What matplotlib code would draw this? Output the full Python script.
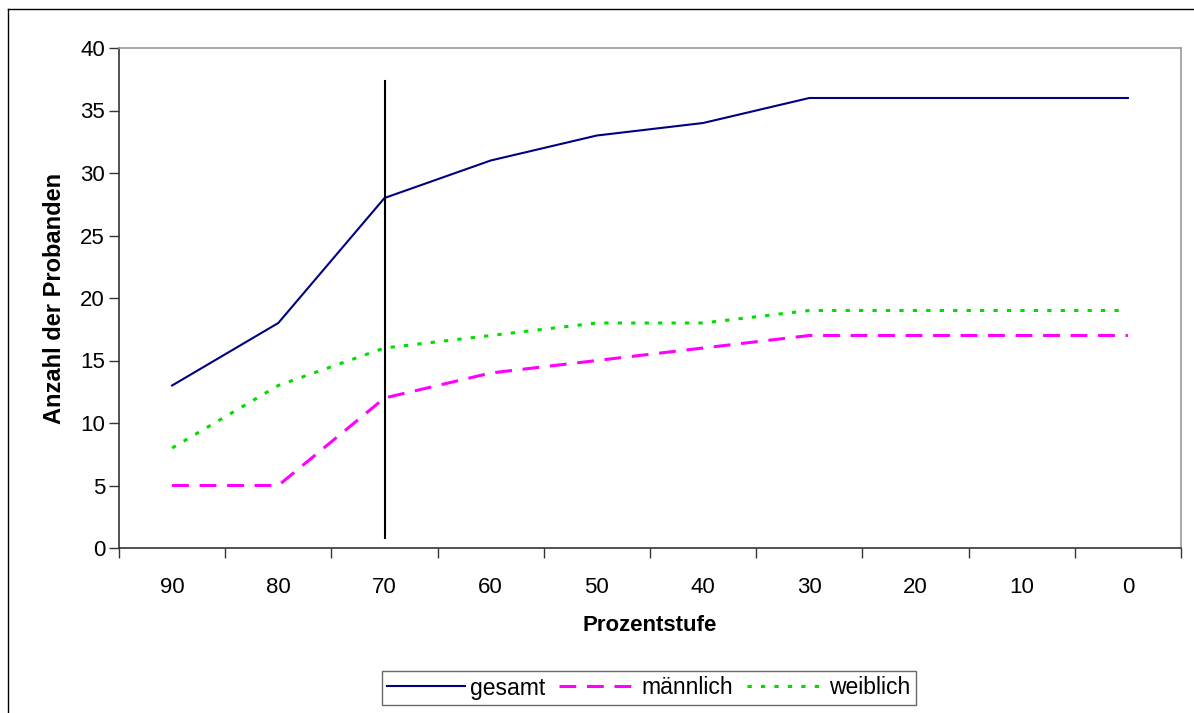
import matplotlib.pyplot as plt
from matplotlib.lines import Line2D

plt.rcParams['font.family'] = ['Liberation Sans', 'DejaVu Sans']

prozentstufen = ['90', '80', '70', '60', '50', '40', '30', '20', '10', '0']
gesamt = [13, 18, 28, 31, 33, 34, 36, 36, 36, 36]
maennlich = [5, 5, 12, 14, 15, 16, 17, 17, 17, 17]
weiblich = [8, 13, 16, 17, 18, 18, 19, 19, 19, 19]
markierung = '70'
markierung_y = (0.8, 37.4)

fig = plt.figure(figsize=(11.94, 7.13), dpi=100)
ax = fig.add_axes([119 / 1194, 1 - 548 / 713, 1062 / 1194, 500 / 713])

x = list(range(len(prozentstufen)))
ax.plot(x, gesamt, color='#000080', lw=1.5, label='gesamt')
ax.plot(x, maennlich, color='#ff00ff', lw=2.2, dashes=(5.5, 3.5), label='männlich')
ax.plot(x, weiblich, color='#00dd00', lw=2.2, dashes=(1.4, 3), label='weiblich')

xm = prozentstufen.index(markierung)
ax.plot([xm, xm], markierung_y, color='black', lw=1.5)

ax.set_xlim(-0.5, len(prozentstufen) - 0.5)
ax.set_ylim(0, 40)
ax.set_yticks(range(0, 41, 5))
ax.set_xticks([i - 0.5 for i in range(len(prozentstufen) + 1)])
ax.set_xticklabels([])
ax.set_xticks(x, minor=True)
ax.set_xticklabels(prozentstufen, minor=True)
ax.tick_params(axis='x', which='major', length=7, width=1, color='#333333', direction='out')
ax.tick_params(axis='x', which='minor', length=0, pad=21, labelsize=16)
ax.tick_params(axis='y', length=7, width=1, color='#333333', labelsize=16, pad=3)

for s in ['left', 'bottom']:
    ax.spines[s].set_color('#333333')
    ax.spines[s].set_linewidth(1.2)
for s in ['top', 'right']:
    ax.spines[s].set_color('#999999')
    ax.spines[s].set_linewidth(1.2)

ax.set_xlabel('Prozentstufe', fontsize=16, fontweight='bold', labelpad=12)
ax.set_ylabel('Anzahl der Probanden', fontsize=17, fontweight='bold', labelpad=10)

leg = fig.legend(loc='center', bbox_to_anchor=(649 / 1194, 1 - 688 / 713), ncol=3,
                 fontsize=16.5, frameon=True, fancybox=False, edgecolor='#444444',
                 handlelength=3.4, handletextpad=0.2, columnspacing=0.6,
                 borderpad=0.25, borderaxespad=0)
leg.get_frame().set_linewidth(1.0)

# Rahmen um die Grafik (links und oben sichtbar)
fig.add_artist(Line2D([8 / 1194, 8 / 1194], [0, 1 - 9 / 713], color='black', lw=1))
fig.add_artist(Line2D([8 / 1194, 1], [1 - 9 / 713, 1 - 9 / 713], color='black', lw=1))

fig.savefig('out.png', dpi=100)
